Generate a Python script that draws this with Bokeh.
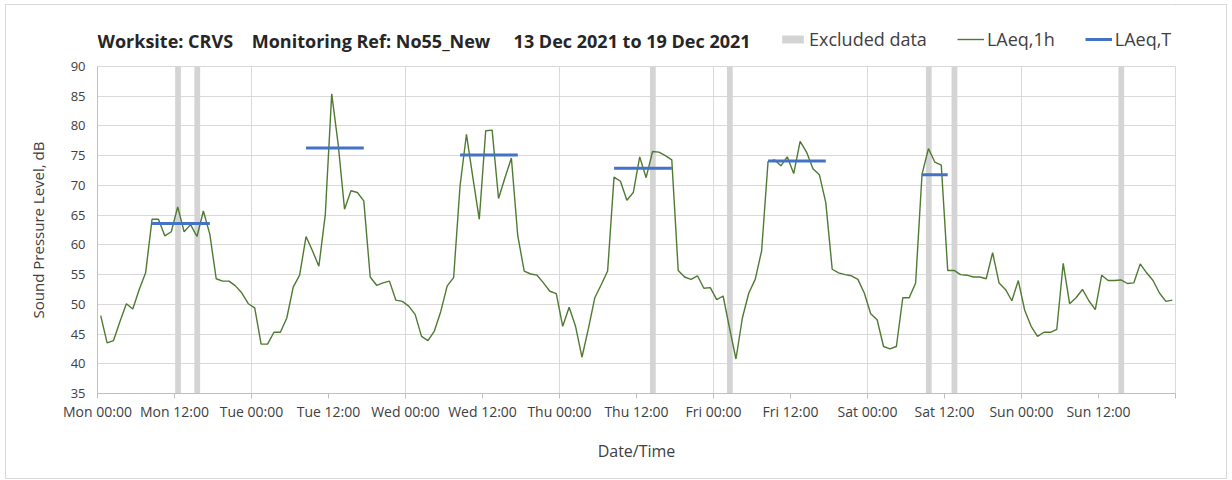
from bokeh.plotting import figure
from bokeh.models import FixedTicker, Legend, LegendItem, ColumnDataSource, Label
from bokeh.layouts import column
from bokeh.embed import file_html
from bokeh.resources import INLINE

# ---- data ----
day_names = ["Mon", "Tue", "Wed", "Thu", "Fri", "Sat", "Sun"]
tick_hours = list(range(0, 169, 12))
tick_labels = [f"{d} {t}" for d in day_names for t in ("00:00", "12:00")] + [""]

laeq_1h = [
    48.1, 43.5, 43.9, 47.1, 50.1, 49.2, 52.5, 55.3, 64.3, 64.3, 61.5, 62.2, 66.4, 62.2, 63.4, 61.4, 65.7, 61.8, 54.3, 53.9, 53.9, 53.1, 51.9, 50.1,
    49.4, 43.3, 43.3, 45.3, 45.3, 47.7, 52.9, 54.9, 61.4, 59.0, 56.4, 65.1, 85.4, 77.0, 66.0, 69.1, 68.8, 67.4, 54.6, 53.2, 53.6, 53.9, 50.7, 50.5,
    49.7, 48.3, 44.6, 43.9, 45.5, 48.8, 53.1, 54.5, 69.9, 78.6, 71.3, 64.3, 79.2, 79.3, 67.8, 71.3, 74.6, 61.5, 55.6, 55.1, 54.9, 53.6, 52.2, 51.8,
    46.3, 49.5, 46.3, 41.1, 45.9, 51.1, 53.3, 55.6, 71.4, 70.7, 67.5, 68.8, 74.8, 71.3, 75.7, 75.6, 75.0, 74.3, 55.7, 54.6, 54.2, 54.8, 52.7, 52.8,
    50.8, 51.4, 46.0, 40.8, 47.7, 51.9, 54.2, 59.0, 74.0, 74.3, 73.3, 74.8, 72.0, 77.4, 75.6, 72.8, 71.8, 67.1, 55.9, 55.3, 55.0, 54.8, 54.2, 51.9,
    48.4, 47.4, 42.9, 42.5, 42.9, 51.1, 51.1, 53.6, 71.9, 76.2, 73.9, 73.4, 55.7, 55.7, 55.0, 54.9, 54.6, 54.6, 54.3, 58.7, 53.6, 52.5, 50.6, 54.0,
    49.0, 46.3, 44.6, 45.3, 45.3, 45.8, 56.9, 50.1, 51.1, 52.5, 50.6, 49.1, 54.9, 54.0, 54.0, 54.1, 53.5, 53.6, 56.8, 55.3, 54.0, 51.9, 50.5, 50.7,
]
hours = list(range(len(laeq_1h)))

laeqT_start = [8, 32, 56, 80, 104, 128]
laeqT_end = [18, 42, 66, 90, 114, 133]
laeqT_value = [63.6, 76.3, 75.1, 72.9, 74.1, 71.8]

excluded_hours = [12, 15, 86, 98, 129, 133, 159]

title_parts = ["Worksite: CRVS", "Monitoring Ref: No55_New", "13 Dec 2021 to 19 Dec 2021"]
legend_labels = ["Excluded data", "LAeq,1h", "LAeq,T"]

FONT = "Open Sans"
TXT = "#404040"
NB = "\u00a0"
GREY, GREEN, BLUE = "#d4d4d4", "#4f7a32", "#4472c4"

# shared sources
ex_src = ColumnDataSource(dict(x=[h + 0.55 for h in excluded_hours]))
src = ColumnDataSource(dict(x=[h + 0.5 for h in hours], y=laeq_1h))
t_src = ColumnDataSource(dict(x0=[s + 0.5 for s in laeqT_start],
                              x1=[e - 0.5 for e in laeqT_end], y=laeqT_value))

# ---------------- header (title + legend) ----------------
# same series drawn in a header strip whose ranges keep them out of view; they only feed the legend
header = figure(width=1220, height=52, output_backend="svg", toolbar_location=None, title=None,
                x_range=(-1000, -999), y_range=(-1000, -999), min_border=0)
header.axis.visible = False
header.grid.visible = False
header.outline_line_color = None

h_ex = header.vbar(x="x", width=0.9, bottom=35, top=90, source=ex_src, fill_color=GREY, line_color=None)
h_1h = header.line("x", "y", source=src, line_color=GREEN, line_width=1.4)
h_T = header.segment(x0="x0", y0="y", x1="x1", y1="y", source=t_src, line_color=BLUE, line_width=3)

header.add_layout(Label(x=0, y=17, x_units="screen", y_units="screen",
                        text=title_parts[0] + NB * 4 + title_parts[1] + NB * 5 + title_parts[2],
                        text_font=FONT, text_font_size="18px", text_font_style="bold",
                        text_color="#262626", text_baseline="middle"))

legend = Legend(items=[LegendItem(label=l, renderers=[r])
                       for l, r in zip(legend_labels, [h_ex, h_1h, h_T])],
                orientation="horizontal", location=(682, 6))
legend.label_text_font = FONT
legend.label_text_font_size = "18px"
legend.label_text_color = TXT
legend.background_fill_alpha = 0
legend.border_line_color = None
legend.glyph_width = 27
legend.glyph_height = 10
legend.spacing = 30
legend.label_standoff = 3
legend.padding = 0
legend.margin = 0
header.add_layout(legend, "center")

# ---------------- main chart ----------------
p = figure(width=1220, height=421, output_backend="svg", toolbar_location=None, title=None,
           x_range=(0, 168), y_range=(35, 90),
           min_border_left=91, min_border_right=51, min_border_top=9, min_border_bottom=85)

p.vbar(x="x", width=0.9, bottom=35, top=90, source=ex_src, fill_color=GREY, line_color=None)
p.line("x", "y", source=src, line_color=GREEN, line_width=1.4)
p.segment(x0="x0", y0="y", x1="x1", y1="y", source=t_src, line_color=BLUE, line_width=3)

p.xaxis.ticker = FixedTicker(ticks=tick_hours)
p.xaxis.major_label_overrides = {h: l for h, l in zip(tick_hours, tick_labels)}
p.xaxis.minor_tick_line_color = None
p.xaxis.major_tick_out = 5
p.xaxis.major_tick_in = 0
p.xaxis.major_label_standoff = 3
p.xaxis.axis_label = "Date/Time"
p.xaxis.axis_label_standoff = 16

p.yaxis.ticker = FixedTicker(ticks=list(range(35, 91, 5)))
p.yaxis.minor_tick_line_color = None
p.yaxis.major_tick_out = 0
p.yaxis.major_tick_in = 0
p.yaxis.major_label_standoff = 12
p.yaxis.axis_label = "Sound Pressure Level, dB"
p.yaxis.axis_label_standoff = 20

for ax in (p.xaxis[0], p.yaxis[0]):
    ax.axis_line_color = "#bfbfbf"
    ax.major_tick_line_color = "#bfbfbf"
    ax.major_label_text_font = FONT
    ax.major_label_text_color = TXT
    ax.axis_label_text_font = FONT
    ax.axis_label_text_font_style = "normal"
    ax.axis_label_text_color = TXT
p.xaxis.major_label_text_font_size = "14px"
p.yaxis.major_label_text_font_size = "13px"
p.xaxis.axis_label_text_font_size = "16px"
p.yaxis.axis_label_text_font_size = "15px"

p.xgrid.ticker = FixedTicker(ticks=list(range(0, 169, 24)))
p.xgrid.grid_line_color = "#d9d9d9"
p.ygrid.grid_line_color = "#d9d9d9"
p.outline_line_color = "#d9d9d9"

page = column(header, p, spacing=0)
page.styles = {"border": "1px solid #d9d9d9", "margin-left": "5px", "margin-top": "4px"}

open("out.html", "w").write(file_html(page, INLINE))
